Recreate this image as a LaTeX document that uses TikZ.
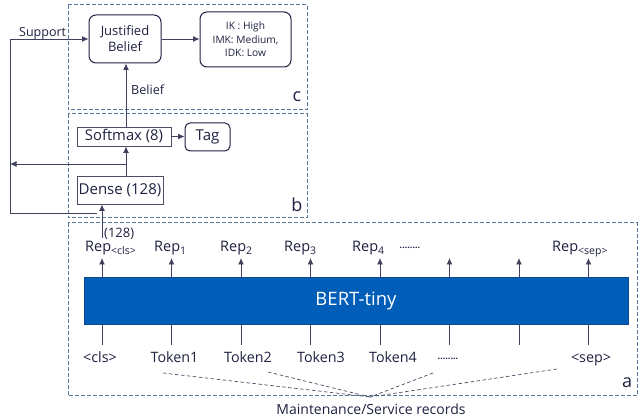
\documentclass[tikz,border=0pt]{standalone}
\usepackage{fontspec}
\setmainfont{Open Sans}
\usetikzlibrary{arrows.meta}
\definecolor{ink}{HTML}{1E2140}
\definecolor{frame}{HTML}{56789A}
\definecolor{bertblue}{HTML}{005EB8}
\definecolor{bertedge}{HTML}{0B4A8F}
\tikzset{
  arr/.style={-{Latex[length=6.5pt,width=6pt]}, draw=ink!85, line width=0.9pt},
  plain/.style={draw=ink!85, line width=0.9pt},
  rbox/.style={draw=ink, line width=1pt, rounded corners=7pt, align=center, inner sep=0pt, text=ink},
  sbox/.style={draw=ink!80, line width=0.9pt, inner sep=0pt, text=ink},
  panel/.style={draw=frame, line width=1pt, dash pattern=on 4pt off 2pt},
  lbl/.style={text=ink, inner sep=0pt},
  recline/.style={draw=ink!80, line width=0.7pt, dash pattern=on 3.5pt off 2.5pt},
}
\begin{document}
\begin{tikzpicture}[x=1pt,y=-1pt]
\useasboundingbox (0,0) rectangle (640,419);
% panels
\draw[panel] (68,5) rectangle (307,110);
\draw[panel] (68,114) rectangle (307,218);
\draw[panel] (68,223) rectangle (637,396);
\node[lbl, font=\fontsize{18}{18}\selectfont] (lc) at (297,97) {c};
\node[lbl, font=\fontsize{18}{18}\selectfont] (lb) at (297,205) {b};
\node[lbl, font=\fontsize{18}{18}\selectfont] (la) at (627,383) {a};
% panel c
\node[rbox, minimum width=72pt, minimum height=48pt, font=\fontsize{13}{16}\selectfont] (jb) at (125,39) {Justified\\Belief};
\node[rbox, minimum width=91pt, minimum height=55pt, font=\fontsize{10.2}{13.7}\selectfont] (ik) at (245.5,39.5) {IK : High\\IMK: Medium,\\IDK: Low};
\draw[arr] (jb.east) -- (ik.west |- jb.east);
% panel b
\node[sbox, minimum width=94pt, minimum height=19pt, font=\fontsize{14.8}{15}\selectfont] (sm) at (124,136.5) {Softmax (8)};
\node[rbox, rounded corners=5pt, minimum width=45pt, minimum height=28pt, font=\fontsize{15}{15}\selectfont] (tag) at (207.5,137) {Tag};
\node[sbox, minimum width=86pt, minimum height=28pt, font=\fontsize{15}{15}\selectfont] (dense) at (120,190) {Dense (128)};
\coordinate (bx) at (126,0);
\draw[arr] (sm.north -| bx) -- (jb.south -| bx);
\node[lbl, anchor=west, font=\fontsize{12.6}{13}\selectfont] (belieflbl) at (131,90) {Belief};
\draw[arr] (sm.east) -- (tag.west |- sm.east);
\draw[arr] (dense.north -| bx) -- (sm.south -| bx);
\coordinate (fbk) at (126,164);
\coordinate (fbkl) at (10,164);
\draw[arr] (fbk) -- (fbkl);
% support line
\coordinate (sup0) at (97,213);
\coordinate (sup1) at (10,213);
\draw[arr] (sup0) -- (sup1) -- (sup1 |- jb.west) -- (jb.west);
\node[lbl, anchor=base west, font=\fontsize{12.5}{13}\selectfont] (suplbl) at (19,37) {Support};
% panel a
\node[draw=bertedge, line width=0.8pt, fill=bertblue, minimum width=544pt, minimum height=47pt, inner sep=0pt, text=white, font=\fontsize{18.5}{19}\selectfont] (bert) at (356,300.5) {BERT-tiny};
\coordinate (clsin) at (102,238);
\draw[arr] (clsin) -- (dense.south -| clsin);
\node[lbl, anchor=base west, font=\fontsize{13}{13}\selectfont] (dim) at (104,238) {(128)};
\foreach \i/\x in {0/102,1/171.5,2/241,3/310.5,4/380,5/449.5,6/519,7/588.5}{
  \coordinate (up\i) at (\x,258);
  \coordinate (dn\i) at (\x,345);
  \draw[arr] (bert.north -| up\i) -- (up\i);
  \draw[plain] (bert.south -| dn\i) -- (dn\i);
}
\tikzset{replbl/.style={lbl, anchor=base west, font=\fontsize{14.5}{15}\selectfont}}
\newcommand{\repsub}[1]{\raisebox{-0.35ex}{\fontsize{10.5}{11}\selectfont #1}}
\node[replbl] (r0) at (85,252) {Rep\repsub{<cls>}};
\node[replbl] (r1) at (154,252) {Rep\repsub{1}};
\node[replbl] (r2) at (220,252) {Rep\repsub{2}};
\node[replbl] (r3) at (284,252) {Rep\repsub{3}};
\node[replbl] (r4) at (352,252) {Rep\repsub{4}};
\node[replbl] (r7) at (552,252) {Rep\repsub{<sep>}};
\node[lbl, font=\fontsize{9}{9}\selectfont\bfseries] (rdots) at (410,248) {........};
\tikzset{toklbl/.style={lbl, anchor=base, font=\fontsize{14.3}{15}\selectfont}}
\node[toklbl] (t0) at (100,363) {<cls>};
\node[toklbl] (t1) at (174.5,363) {Token1};
\node[toklbl] (t2) at (248,363) {Token2};
\node[toklbl] (t3) at (321,363) {Token3};
\node[toklbl] (t4) at (393,363) {Token4};
\node[lbl, font=\fontsize{9}{9}\selectfont\bfseries] (tdots) at (448,359) {........};
\node[toklbl] (t7) at (591,363) {<sep>};
% records
\coordinate (conv) at (370,397);
\coordinate (d1) at (163,373);
\coordinate (d2) at (268,372);
\coordinate (d3) at (433,373);
\coordinate (d4) at (557,369);
\foreach \d in {d1,d2,d3,d4}{\draw[recline] (\d) -- (conv);}
\node[lbl, anchor=base, font=\fontsize{14}{14}\selectfont] (rec) at (371,415) {Maintenance/Service records};
\end{tikzpicture}
\end{document}
